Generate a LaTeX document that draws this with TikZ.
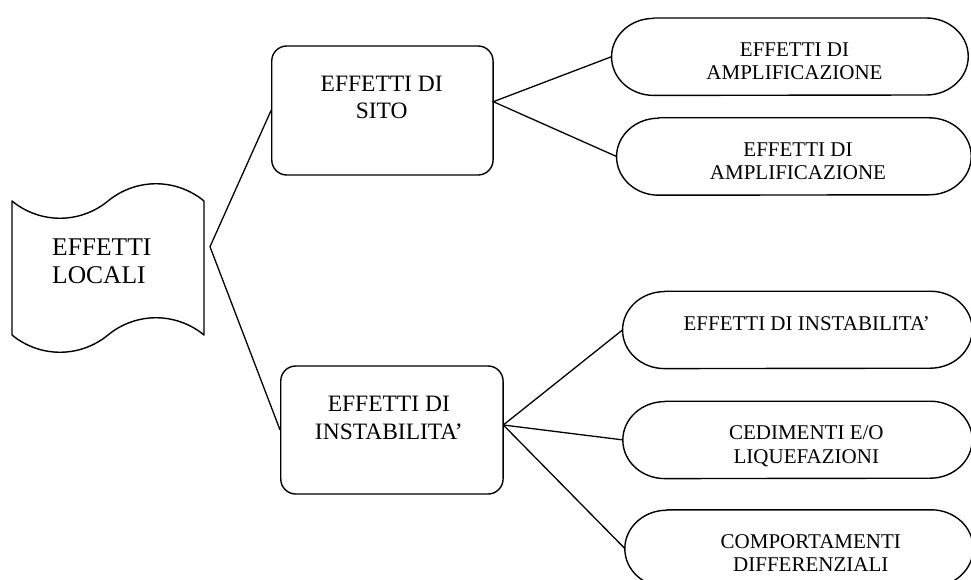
\documentclass[tikz,border=0pt]{standalone}
\usepackage{fontspec}
\setmainfont{Liberation Serif}
\usetikzlibrary{calc}
\tikzset{
  outl/.style={draw=black, line width=1.4pt, line join=round},
  conn/.style={draw=black, line width=1.3pt},
  holder/.style={rectangle, draw=none, inner sep=0pt, minimum height=77pt},
  boxshape/.style={rectangle, draw=black, line width=1.4pt, rounded corners=15pt, inner sep=0pt},
  boxtext/.style={font=\fontsize{23.5}{27.3}\selectfont, align=center, inner sep=0pt, anchor=base},
  elltext/.style={font=\fontsize{21}{23.3}\selectfont, align=center, inner sep=0pt, anchor=base},
  tapetext/.style={font=\fontsize{25.5}{27.4}\selectfont, align=left, inner sep=0pt, anchor=base west}
}
\newcommand\stadiumpath[1]{%
  \draw[outl] ($(#1.north west)+(42,0)$) -- ($(#1.north east)+(-42,0)$)
    arc[start angle=90,end angle=-90,x radius=42,y radius=38.5]
    -- ($(#1.south west)+(42,0)$)
    arc[start angle=270,end angle=90,x radius=42,y radius=38.5] -- cycle;}
\begin{document}
\begin{tikzpicture}[x=1pt,y=1pt]
\useasboundingbox (0,0) rectangle (971,-580);

% tape shape (EFFETTI LOCALI)
\draw[outl] (12,-201) .. controls (40,-224) and (80,-224) .. (108,-201)
  .. controls (136,-178) and (176,-178) .. (204,-201)
  -- (204,-335) .. controls (176,-312) and (136,-312) .. (108,-335)
  .. controls (80,-358) and (40,-358) .. (12,-335) -- cycle;
\node[tapetext] (loc) at (52,-283) {EFFETTI\\LOCALI};

% boxes
\node[boxshape, minimum width=221.3pt, minimum height=129pt] (sito) at (382.4,-110.5) {};
\node[boxtext] (sitoT) at (381.7,-119) {EFFETTI DI\\SITO};
\node[boxshape, minimum width=222.3pt, minimum height=128pt] (inst) at (391.9,-430) {};
\node[boxtext] (instT) at (388.8,-439) {EFFETTI DI\\INSTABILITA’};

% stadiums
\node[holder, minimum width=356.3pt] (e1) at (789.9,-56.7) {};
\node[holder, minimum width=354.3pt] (e2) at (793.9,-156.5) {};
\node[holder, minimum width=349.3pt] (e3) at (797.4,-329.9) {};
\node[holder, minimum width=349pt] (e4) at (797.5,-439.9) {};
\node[holder, minimum width=348pt] (e5) at (799,-548.5) {};
\stadiumpath{e1}
\stadiumpath{e2}
\stadiumpath{e3}
\stadiumpath{e4}
\stadiumpath{e5}
\node[elltext] (e1T) at (794.5,-80) {EFFETTI DI\\AMPLIFICAZIONE};
\node[elltext] (e2T) at (798,-180) {EFFETTI DI\\AMPLIFICAZIONE};
\node[elltext] (e3T) at (806.7,-330) {EFFETTI DI INSTABILITA’};
\node[elltext] (e4T) at (806.3,-463) {CEDIMENTI E/O\\LIQUEFAZIONI};
\node[elltext] (e5T) at (810.8,-571.7) {COMPORTAMENTI\\DIFFERENZIALI};

% junctions
\coordinate (j0) at (210,-246.7);
\coordinate (j1) at (493.3,-101.7);
\coordinate (j2) at (503.3,-425);

% connectors
\draw[conn] (sito.west) -- (j0) -- (inst.west);
\draw[conn] (e1.west) -- (j1) -- (e2.west);
\draw[conn] (j2) -- (e3.west);
\draw[conn] (j2) -- (e4.west);
\draw[conn] (j2) -- (e5.west);
\end{tikzpicture}
\end{document}
